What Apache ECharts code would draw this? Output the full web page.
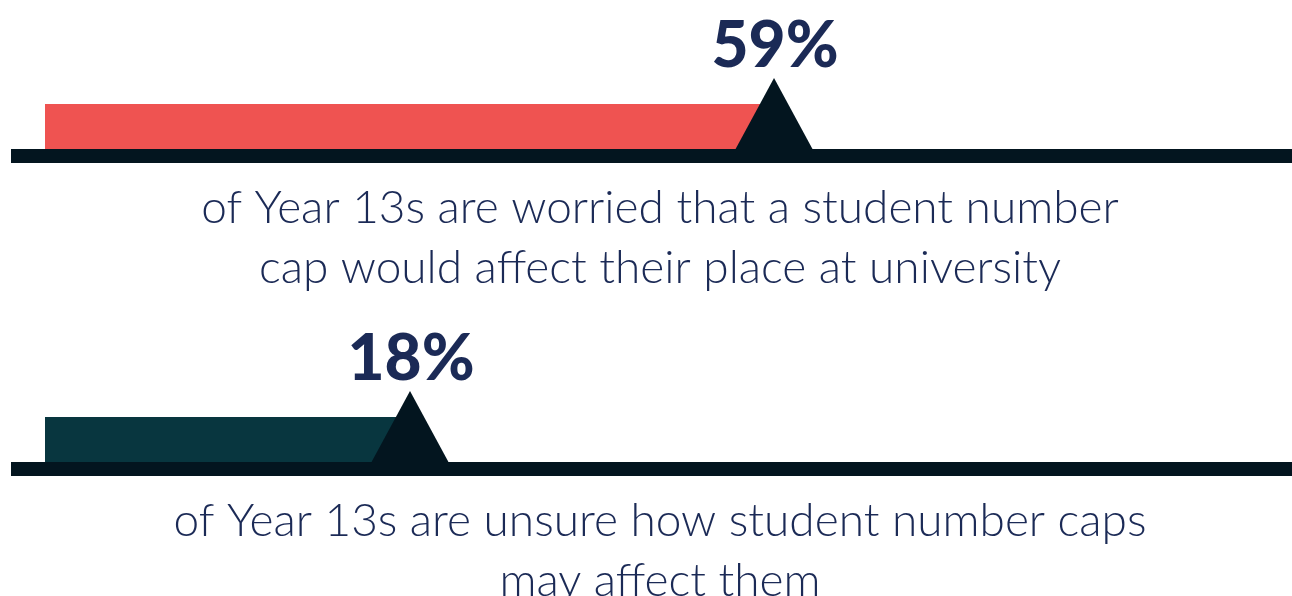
<!DOCTYPE html>
<html>
<head>
<meta charset="utf-8">
<script src="https://cdn.jsdelivr.net/npm/echarts@6/dist/echarts.min.js"></script>
<style>
html,body{margin:0;padding:0;background:#ffffff;}
#chart{width:1292px;height:596px;}
</style>
</head>
<body>
<div id="chart"></div>
<script>
// ---- data ----
const categories = [
  'of Year 13s are worried that a student number\ncap would affect their place at university',
  'of Year 13s are unsure how student number caps\nmay affect them'
];
const values = [59, 18];
const valueLabels = ['59%', '18%'];

// ---- styling ----
const barColors = ['#EF5351', '#08363F'];
const darkColor = '#03151F';
const textColor = '#1B2A56';

const chart = echarts.init(document.getElementById('chart'), null, {renderer: 'canvas'});

function renderItem(params, api) {
  const idx = api.value(1);
  const v = api.value(0);
  const p = api.coord([v, idx]);
  const cs = params.coordSys;
  const x = p[0], yc = p[1];
  const barLeft = cs.x + 34;
  return {
    type: 'group',
    children: [
      { type: 'rect', shape: { x: barLeft, y: yc - 52, width: x - barLeft, height: 46 },
        style: { fill: barColors[idx] } },
      { type: 'rect', shape: { x: cs.x, y: yc - 7, width: cs.width, height: 14 },
        style: { fill: darkColor } },
      { type: 'polygon', shape: { points: [[x - 39, yc - 6], [x, yc - 78], [x + 39, yc - 6]] },
        style: { fill: darkColor } },
      { type: 'text', x: x + 1, y: yc - 110,
        style: { text: valueLabels[idx], fill: textColor, font: '900 64px Lato',
                 align: 'center', verticalAlign: 'middle' } },
      { type: 'text', x: cs.x + 649, y: yc + 22,
        style: { text: categories[idx], fill: textColor, font: '300 46px Lato',
                 lineHeight: 60, align: 'center', verticalAlign: 'top' } }
    ]
  };
}

chart.setOption({
  animation: false,
  grid: { left: 11, right: 0, top: 156, bottom: 127 },
  xAxis: { type: 'value', min: -26.94, max: 117.34, show: false },
  yAxis: { type: 'category', data: [0, 1], inverse: true, boundaryGap: false, show: false },
  series: [{
    type: 'custom',
    renderItem: renderItem,
    clip: false,
    data: values.map((v, i) => [v, i])
  }]
});
</script>
</body>
</html>
